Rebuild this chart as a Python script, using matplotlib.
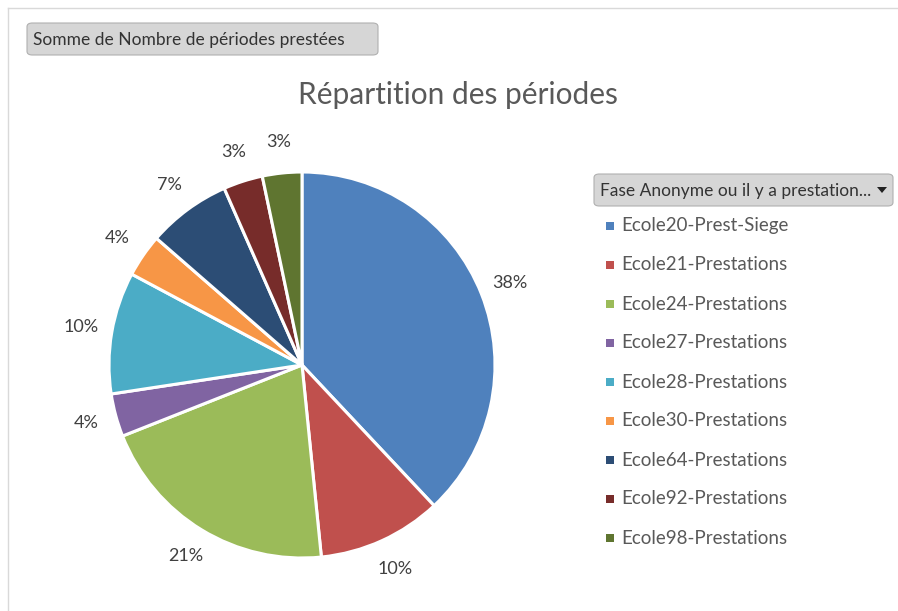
import matplotlib
matplotlib.use("Agg")
import matplotlib.pyplot as plt
from matplotlib.patches import FancyBboxPatch, Rectangle, Polygon
import numpy as np

plt.rcParams['font.family'] = ['Lato', 'DejaVu Sans']

categories = ["Ecole20-Prest-Siege", "Ecole21-Prestations", "Ecole24-Prestations",
              "Ecole27-Prestations", "Ecole28-Prestations", "Ecole30-Prestations",
              "Ecole64-Prestations", "Ecole92-Prestations", "Ecole98-Prestations"]
values = [38.0, 10.4, 20.6, 3.6, 10.2, 3.6, 7.0, 3.3, 3.3]
colors = ["#4F81BD", "#C0504D", "#9BBB59", "#8064A2", "#4BACC6",
          "#F79646", "#2C4D75", "#772C2A", "#5F7530"]
title = "Répartition des périodes"
button_text = "Somme de Nombre de périodes prestées"
legend_title = "Fase Anonyme ou il y a prestation..."

W, H = 898, 611
fig = plt.figure(figsize=(W / 100, H / 100), dpi=100)
fig.patch.set_facecolor("white")

def fx(px):
    return px / W

def fy(py):
    return 1 - py / H

# outer frame lines
fig.add_artist(plt.Line2D([fx(8), fx(898)], [fy(8), fy(8)], color="#d9d9d9", lw=1))
fig.add_artist(plt.Line2D([fx(8), fx(8)], [fy(8), fy(611)], color="#d9d9d9", lw=1))

# pie axes
cx, cy, R = 302, 365, 193
lim = 1.35
half = R * lim
ax = fig.add_axes([fx(cx - half), fy(cy + half), 2 * half / W, 2 * half / H])
wedges, texts, autotexts = ax.pie(values, colors=colors, startangle=90, counterclock=False,
                                  autopct=lambda p: f"{p:.0f}%", pctdistance=1.16,
                                  wedgeprops=dict(edgecolor="white", linewidth=2.2),
                                  textprops=dict(color="#404040", fontsize=13))
ax.set_xlim(-lim, lim)
ax.set_ylim(-lim, lim)
ax.set_aspect("equal")
ax.axis("off")

# title
fig.text(fx(458), fy(95), title, ha="center", va="center", fontsize=21.5, color="#595959")

def button(x0, y0, x1, y1, text, fs, arrow=False):
    box = FancyBboxPatch((fx(x0), fy(y1)), fx(x1 - x0), (y1 - y0) / H,
                         boxstyle="round,pad=0,rounding_size=0.006",
                         transform=fig.transFigure, facecolor="#d6d6d6",
                         edgecolor="#b0b0b0", lw=0.8)
    fig.add_artist(box)
    fig.text(fx(x0 + 6), fy((y0 + y1) / 2 + 1), text, ha="left", va="center",
             fontsize=fs, color="#333333")
    if arrow:
        ax_ = x1 - 11
        ay = (y0 + y1) / 2
        tri = Polygon([[fx(ax_ - 5), fy(ay - 3)], [fx(ax_ + 5), fy(ay - 3)], [fx(ax_), fy(ay + 3)]],
                      closed=True, transform=fig.transFigure, facecolor="#222222", edgecolor="none")
        fig.add_artist(tri)

button(27, 23, 378, 55, button_text, 12.5)
button(594, 174, 893, 206, legend_title, 12.5, arrow=True)

# legend entries
y0 = 226
dy = 39
for i, (lab, col) in enumerate(zip(categories, colors)):
    y = y0 + i * dy
    fig.add_artist(Rectangle((fx(606), fy(y + 4)), 8 / W, 8 / H,
                             transform=fig.transFigure, facecolor=col, edgecolor="none"))
    fig.text(fx(621), fy(y), lab, ha="left", va="center", fontsize=13.5, color="#595959")

fig.savefig("out.png", dpi=100)
